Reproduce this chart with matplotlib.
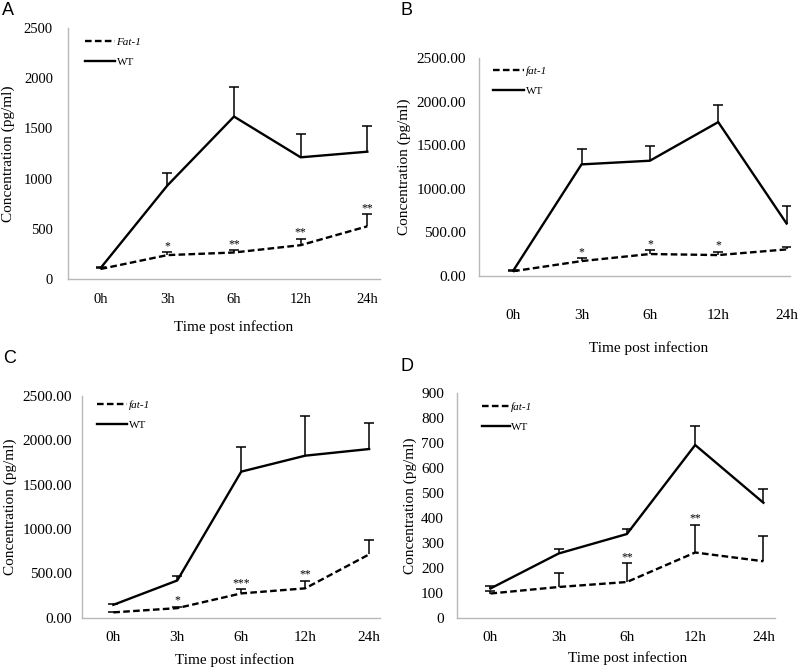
import matplotlib
matplotlib.use("Agg")
import matplotlib.pyplot as plt
import numpy as np

hours = ['0h', '3h', '6h', '12h', '24h']

# Panel A
wt_A = [110, 931, 1618, 1212, 1268]
wt_A_err = [8, 126, 297, 231, 251]
fat_A = [100, 238, 264, 337, 525]
fat_A_err = [8, 26, 23, 66, 119]
stars_A = ['', '*', '**', '**', '**']

# Panel B
wt_B = [60, 1280, 1322, 1765, 602]
wt_B_err = [8, 180, 168, 201, 202]
fat_B = [55, 171, 252, 240, 305]
fat_B_err = [8, 31, 45, 38, 30]
stars_B = ['', '*', '*', '*', '']

# Panel C
wt_C = [145, 420, 1647, 1827, 1902]
wt_C_err = [10, 54, 274, 447, 290]
fat_C = [60, 108, 274, 331, 714]
fat_C_err = [8, 16, 46, 86, 162]
stars_C = ['', '*', '***', '**', '']

# Panel D
wt_D = [118, 258, 336, 692, 461]
wt_D_err = [10, 20, 22, 77, 54]
fat_D = [98, 124, 144, 262, 227]
fat_D_err = [9, 56, 76, 112, 100]
stars_D = ['', '', '**', '**', '']

W, H = 800, 669
fig = plt.figure(figsize=(W / 100, H / 100), dpi=100)
plt.rcParams['font.family'] = ['Liberation Serif', 'DejaVu Serif']

def px_axes(l, r, t, b):
    return [l / W, 1 - b / H, (r - l) / W, (b - t) / H]

panels = [
    dict(rect=px_axes(68, 380, 28, 279), wt=wt_A, wte=wt_A_err, fat=fat_A, fate=fat_A_err,
         stars=stars_A, ylim=(0, 2500), yticks=np.arange(0, 2501, 500), fmt='{:.0f}',
         xlim=(-0.49, 4.19), fatlab='Fat-1', ypad=10.8, xpad=10.4, tfs=10.5,
         xlab=(0.53, 48), ylabx=-0.192, leg=(0.054, 0.964), hl=2.7, letter='A', lpos=(2, 2)),
    dict(rect=px_axes(479, 790, 58, 276), wt=wt_B, wte=wt_B_err, fat=fat_B, fate=fat_B_err,
         stars=stars_B, ylim=(0, 2500), yticks=np.arange(0, 2501, 500), fmt='{:.2f}',
         xlim=(-0.5, 4.05), fatlab='fat-1', ypad=9.4, xpad=24, tfs=11,
         xlab=(0.547, 72), ylabx=-0.241, leg=(0.045, 0.963), hl=2.8, letter='B', lpos=(400, 2)),
    dict(rect=px_axes(82, 380, 396, 617.7), wt=wt_C, wte=wt_C_err, fat=fat_C, fate=fat_C_err,
         stars=stars_C, ylim=(0, 2500), yticks=np.arange(0, 2501, 500), fmt='{:.2f}',
         xlim=(-0.49, 4.17), fatlab='fat-1', ypad=7.2, xpad=9.7, tfs=11,
         xlab=(0.513, 42), ylabx=-0.242, leg=(0.05, 0.982), hl=2.7, letter='C', lpos=(3, 350)),
    dict(rect=px_axes(457, 775, 393, 618), wt=wt_D, wte=wt_D_err, fat=fat_D, fate=fat_D_err,
         stars=stars_D, ylim=(0, 900), yticks=np.arange(0, 901, 100), fmt='{:.0f}',
         xlim=(-0.49, 4.17), fatlab='fat-1', ypad=9.4, xpad=9.7, tfs=11,
         xlab=(0.535, 40), ylabx=-0.148, leg=(0.078, 0.96), hl=2.5, letter='D', lpos=(400, 358)),
]

spine_col = '#b8b8b8'
x = np.arange(len(hours))

def upper_errorbar(ax, xs, ys, errs):
    _, caps, _ = ax.errorbar(xs, ys, yerr=[np.zeros(len(xs)), errs], fmt='none',
                             ecolor='black', elinewidth=1.1, capsize=3.5, capthick=1.1)
    # hide the lower caps (drawn at the data points)
    if len(caps) == 2:
        caps[0].set_visible(False)

for p in panels:
    ax = fig.add_axes(p['rect'])
    ax_h_px = p['rect'][3] * H
    fat_line, = ax.plot(x, p['fat'], color='black', lw=1.7, linestyle='--', label=p['fatlab'])
    fat_line.set_dashes((2.8, 1.4))
    wt_line, = ax.plot(x, p['wt'], color='black', lw=1.7, linestyle='-', label='WT')
    upper_errorbar(ax, x, p['wt'], p['wte'])
    upper_errorbar(ax, x, p['fat'], p['fate'])
    for xi, yv, e, s in zip(x, p['fat'], p['fate'], p['stars']):
        if s:
            ax.annotate(s, (xi, yv + e), xytext=(0, 0), textcoords='offset points',
                        ha='center', va='bottom', fontsize=8.5)
    ax.set_xlim(*p['xlim'])
    ax.set_ylim(*p['ylim'])
    ax.set_xticks(x)
    ax.set_xticklabels(hours)
    ax.set_yticks(p['yticks'])
    ax.set_yticklabels([p['fmt'].format(v) for v in p['yticks']])
    ax.tick_params(axis='y', length=0, pad=p['ypad'], labelsize=p['tfs'])
    ax.tick_params(axis='x', length=0, pad=p['xpad'], labelsize=p['tfs'])
    for side in ['top', 'right']:
        ax.spines[side].set_visible(False)
    for side in ['left', 'bottom']:
        ax.spines[side].set_color(spine_col)
        ax.spines[side].set_linewidth(1.0)
    ax.set_xlabel('Time post infection', fontsize=11)
    ax.xaxis.set_label_coords(p['xlab'][0], -p['xlab'][1] / ax_h_px)
    ax.xaxis.label.set_va('center')
    ax.set_ylabel('Concentration (pg/ml)', fontsize=11)
    ax.yaxis.set_label_coords(p['ylabx'], 0.5)
    ax.yaxis.label.set_va('center')
    leg = ax.legend(handles=[fat_line, wt_line], loc='upper left', bbox_to_anchor=p['leg'],
                    frameon=False, fontsize=8, handlelength=p['hl'], handletextpad=0.15,
                    borderpad=0, borderaxespad=0, labelspacing=0.9)
    leg.get_texts()[0].set_style('italic')
    fig.text(p['lpos'][0] / W, 1 - p['lpos'][1] / H, p['letter'], ha='left', va='top',
             fontsize=13, family=['Liberation Sans', 'DejaVu Sans'])

fig.savefig('out.png', dpi=100)
